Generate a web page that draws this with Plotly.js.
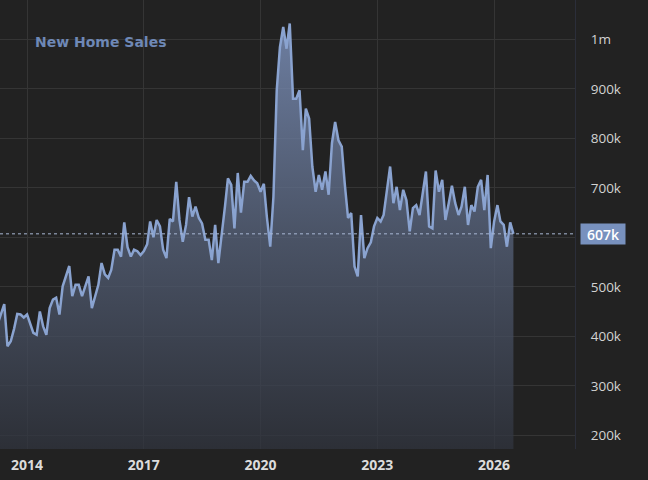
<!DOCTYPE html>
<html>
<head>
<meta charset="utf-8">
<script src="https://cdn.plot.ly/plotly-3.0.1.min.js"></script>
<style>
  html, body { margin: 0; padding: 0; background: #222222; }
  #chart { width: 648px; height: 480px; }
</style>
</head>
<body>
<div id="chart"></div>
<script>
// Monthly new home sales (thousands, SAAR), starting April 2013
const startYear = 2013;
const startMonth = 4;
const sales = [
  425, 445, 465, 380, 390, 415, 445, 444, 438, 444,
  423, 407, 403, 450, 420, 403, 457, 474, 478, 444,
  501, 524, 542, 481, 504, 504, 481, 501, 521, 457,
  481, 504, 548, 525, 518, 534, 575, 575, 561, 630,
  580, 561, 575, 572, 564, 572, 586, 632, 600, 635,
  622, 575, 558, 637, 632, 712, 635, 591, 625, 681,
  642, 662, 639, 628, 595, 595, 554, 625, 548, 601,
  662, 719, 706, 618, 730, 650, 712, 712, 724, 715,
  709, 692, 708, 640, 581, 682, 897, 984, 1025, 981,
  1032, 880, 880, 897, 776, 860, 840, 743, 692, 726,
  696, 733, 686, 790, 833, 796, 783, 709, 639, 649,
  541, 521, 645, 558, 578, 590, 622, 639, 632, 645,
  696, 743, 669, 702, 655, 696, 675, 612, 659, 665,
  645, 689, 733, 622, 618, 735, 692, 716, 635, 669,
  704, 669, 645, 662, 702, 625, 665, 652, 702, 716,
  655, 726, 578, 632, 665, 632, 625, 581, 630, 607
];
const xTickVals = ['2014-01-01', '2017-01-01', '2020-01-01', '2023-01-01', '2026-01-01'];
const xTickText = ['2014', '2017', '2020', '2023', '2026'];
const yTickVals = [200, 300, 400, 500, 600, 700, 800, 900, 1000];
const yTickText = ['200k', '300k', '400k', '500k', '', '700k', '800k', '900k', '1m'];

const dates = sales.map((_, i) => {
  const m = startMonth - 1 + i;
  const y = startYear + Math.floor(m / 12);
  const mm = (m % 12) + 1;
  return y + '-' + String(mm).padStart(2, '0') + '-01';
});
const lastVal = sales[sales.length - 1];

const trace = {
  type: 'scatter',
  mode: 'lines',
  x: dates,
  y: sales,
  line: { color: '#8aa3d0', width: 2.5 },
  fill: 'tozeroy',
  fillgradient: {
    type: 'vertical',
    start: 172,
    stop: 1040,
    colorscale: [
      [0, 'rgba(48,52,62,0.75)'],
      [0.5, 'rgba(88,100,125,0.75)'],
      [1, 'rgba(135,158,205,0.75)']
    ]
  },
  hoverinfo: 'skip'
};

const layout = {
  width: 648,
  height: 480,
  paper_bgcolor: '#222222',
  plot_bgcolor: '#222222',
  margin: { l: 0, r: 73, t: 0, b: 31 },
  showlegend: false,
  title: {
    text: 'New Home Sales',
    font: { family: 'DejaVu Sans', size: 14, weight: 'bold', color: '#6e88b6' },
    x: 35 / 648, xanchor: 'left', xref: 'container',
    y: 1 - 42 / 480, yanchor: 'middle', yref: 'container'
  },
  xaxis: {
    type: 'date',
    range: ['2013-04-22', '2028-01-30'],
    tickvals: xTickVals,
    ticktext: xTickText,
    showgrid: true,
    gridcolor: '#353535',
    gridwidth: 1,
    zeroline: false,
    showline: false,
    ticks: '',
    ticklabelstandoff: 6,
    tickfont: { family: 'Open Sans', size: 14, weight: 'bold', color: '#dcdcdc' }
  },
  yaxis: {
    side: 'right',
    range: [172.3, 1079.4],
    tickvals: yTickVals,
    ticktext: yTickText,
    showgrid: true,
    gridcolor: '#353535',
    gridwidth: 1,
    zeroline: false,
    showline: true,
    linecolor: '#2b2e3a',
    linewidth: 1,
    ticks: '',
    ticklabelstandoff: 12,
    tickfont: { family: 'Open Sans', size: 13.5, color: '#d2d2d2' }
  },
  shapes: [{
    type: 'line',
    xref: 'paper', x0: 0, x1: 1,
    yref: 'y', y0: lastVal, y1: lastVal,
    line: { color: '#a9b8d4', width: 1, dash: 'dot' }
  }],
  annotations: [{
    xref: 'paper', x: 1, xanchor: 'left', xshift: 5,
    yref: 'y', y: lastVal, yanchor: 'middle',
    text: lastVal + 'k',
    showarrow: false,
    bgcolor: '#7891be',
    width: 44, height: 20,
    borderpad: 0,
    font: { family: 'Open Sans', size: 14, weight: 600, color: '#ffffff' }
  }]
};

Plotly.newPlot('chart', [trace], layout, { displayModeBar: false, staticPlot: true });
</script>
</body>
</html>
